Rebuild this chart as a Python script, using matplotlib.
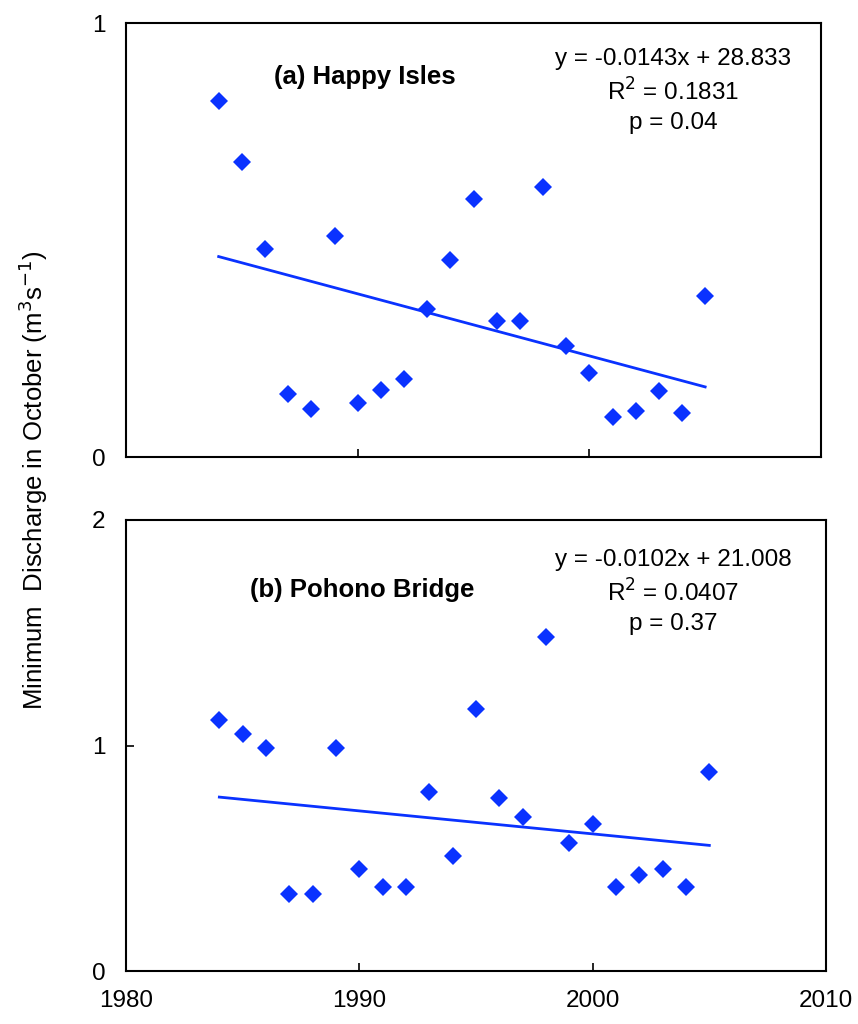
import matplotlib
matplotlib.use("Agg")
import matplotlib.pyplot as plt
import numpy as np

plt.rcParams['font.family'] = ['Liberation Sans', 'DejaVu Sans']
plt.rcParams['axes.unicode_minus'] = False

years = list(range(1984, 2006))
happy_isles = [0.821, 0.680, 0.480, 0.145, 0.110, 0.510, 0.124, 0.154, 0.179, 0.340, 0.453,
               0.595, 0.313, 0.313, 0.623, 0.255, 0.193, 0.092, 0.106, 0.152, 0.101, 0.370]
pohono = [1.111, 1.053, 0.991, 0.342, 0.342, 0.991, 0.453, 0.373, 0.373, 0.796, 0.511,
          1.164, 0.769, 0.684, 1.480, 0.569, 0.653, 0.373, 0.427, 0.453, 0.373, 0.884]
trend_a = (-0.0143, 28.833)
trend_b = (-0.0102, 21.008)
labels = ["(a) Happy Isles", "(b) Pohono Bridge"]
stats = ["y = -0.0143x + 28.833\nR$^2$ = 0.1831\np = 0.04",
         "y = -0.0102x + 21.008\nR$^2$ = 0.0407\np = 0.37"]
xticks = [1980, 1990, 2000, 2010]

W, H = 858, 1024
fig = plt.figure(figsize=(W/100, H/100), dpi=100)
col = '#0a32ff'

def pos(l, t, r, b):
    return [l/W, 1-b/H, (r-l)/W, (b-t)/H]

ax1 = fig.add_axes(pos(126, 23, 821, 457))
ax2 = fig.add_axes(pos(126, 520, 826, 971))

def ax_xy(ax, x, y):
    p = ax.get_position()
    return ((x/W - p.x0)/p.width, ((1-y/H) - p.y0)/p.height)

panels = [(ax1, happy_isles, trend_a, 1, [0, 1], (365, 77), (673, 91)),
          (ax2, pohono, trend_b, 2, [0, 1, 2], (362, 590), (673, 592))]
for i, (ax, vals, tr, ymax, yt, tpos, spos) in enumerate(panels):
    ax.plot(years, vals, linestyle='none', marker='D', markersize=9, color=col, markeredgewidth=0)
    xs = np.array([years[0], years[-1]])
    ax.plot(xs, tr[0]*xs + tr[1], color=col, lw=2)
    ax.set_xlim(1980, 2010)
    ax.set_ylim(0, ymax)
    ax.set_xticks(xticks)
    ax.set_yticks(yt)
    ax.tick_params(direction='in', length=6, width=1.2, labelsize=17.5, pad=15)
    for s in ax.spines.values():
        s.set_linewidth(1.5)
    if i == 0:
        ax.set_xticklabels([])
    ax.text(*ax_xy(ax, *tpos), labels[i], transform=ax.transAxes,
            fontsize=18.5, fontweight='bold', ha='center', va='center')
    ax.text(*ax_xy(ax, *spos), stats[i], transform=ax.transAxes,
            fontsize=17.5, ha='center', va='center', linespacing=1.4)
ax2.tick_params(axis='x', pad=14)

fig.text(33/W, 1-480/H, "Minimum  Discharge in October (m$^3$s$^{\\mathrm{-1}}$)", rotation=90,
         fontsize=18.5, ha='center', va='center')

fig.savefig("out.png", dpi=100)
